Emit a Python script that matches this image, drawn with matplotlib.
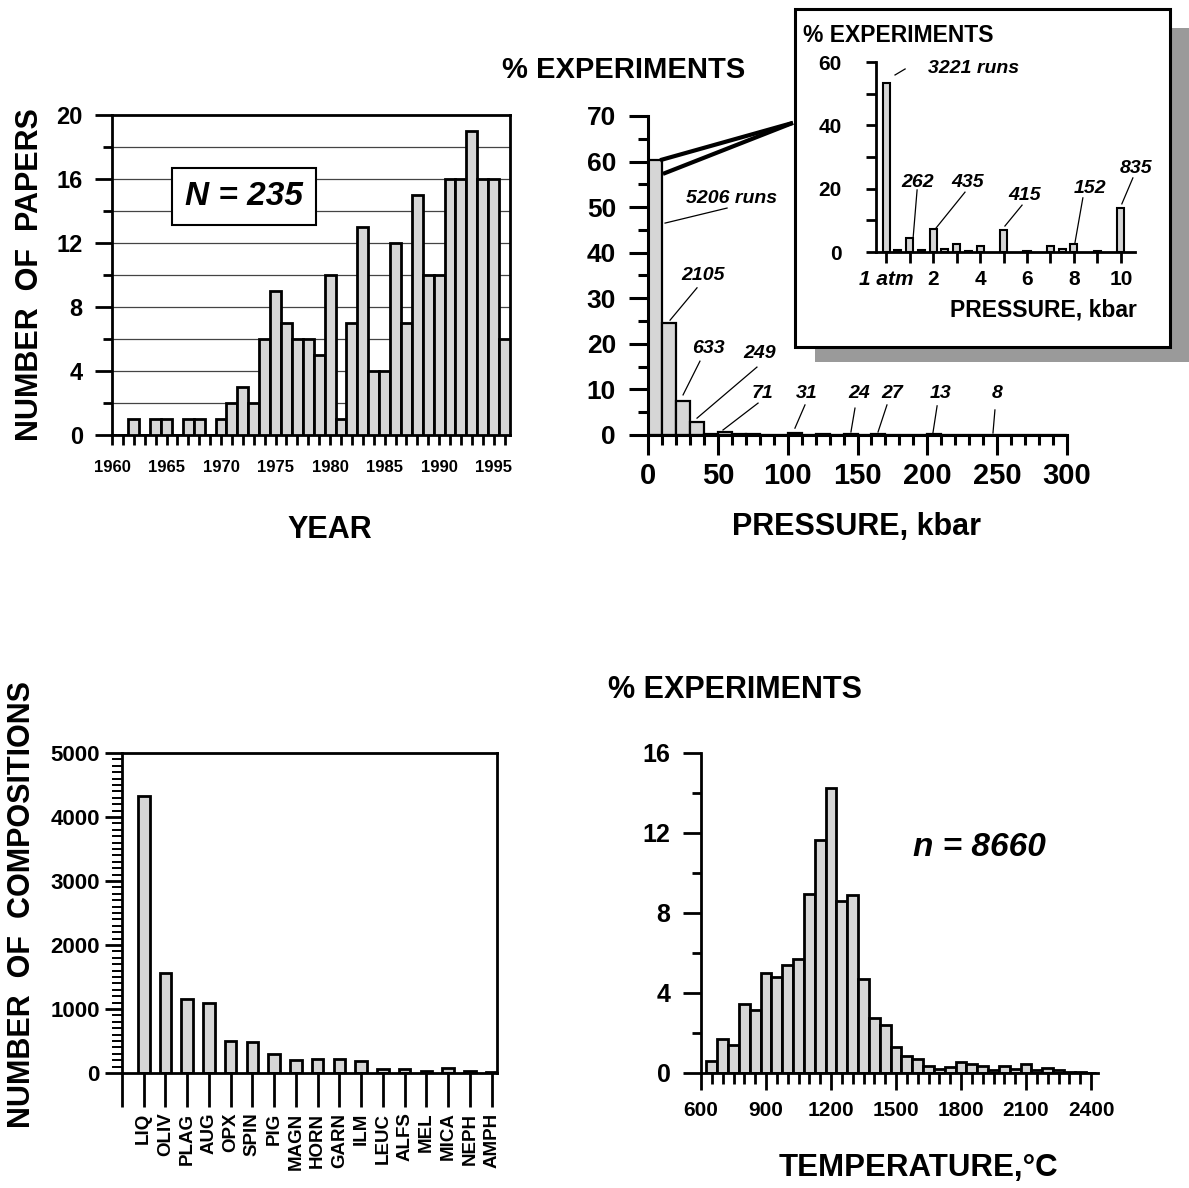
import numpy as np
import matplotlib
matplotlib.use("Agg")
import matplotlib.pyplot as plt
from matplotlib.patches import Rectangle
from matplotlib.ticker import MultipleLocator, FixedLocator

plt.rcParams['font.family'] = ['Liberation Sans', 'DejaVu Sans']
plt.rcParams['font.weight'] = 'bold'

# ---- data ----
years = list(range(1960, 1997))
papers = [0, 0, 1, 0, 1, 1, 0, 1, 1, 0, 1, 2, 3, 2, 6, 9, 7, 6, 6, 5, 10, 1, 7, 13,
          4, 4, 12, 7, 15, 10, 10, 16, 16, 19, 16, 16, 6]

press_edges = list(range(0, 300, 10))
press_pct = [60.3, 24.5, 7.5, 2.8, 0.15, 0.75, 0.3, 0.25, 0.1, 0.1, 0.35, 0.1, 0.3, 0.1, 0.28,
             0.05, 0.3, 0.1, 0.05, 0.05, 0.15, 0.02, 0.1, 0.05, 0.09, 0.1, 0.05, 0.02, 0.02, 0.0]
press_runs = ['5206 runs', '2105', '633', '249', '71', '31', '24', '27', '13', '8']

low_p = [0, 0.5, 1, 1.5, 2, 2.5, 3, 3.5, 4, 5, 6, 7, 7.5, 8, 9, 10]
low_pct = [53.5, 0.6, 4.4, 0.5, 7.4, 1.0, 2.6, 0.2, 1.8, 7.1, 0.2, 2.0, 0.9, 2.5, 0.4, 13.9]
low_runs = ['3221 runs', '262', '435', '415', '152', '835']

phases = ['LIQ', 'OLIV', 'PLAG', 'AUG', 'OPX', 'SPIN', 'PIG', 'MAGN', 'HORN', 'GARN',
          'ILM', 'LEUC', 'ALFS', 'MEL', 'MICA', 'NEPH', 'AMPH']
compositions = [4330, 1570, 1155, 1093, 500, 492, 290, 200, 225, 225, 190, 57, 67, 36, 78, 26, 10]

temps = list(range(650, 2401, 50))
temp_pct = [0.58, 1.68, 1.42, 3.43, 3.13, 5.0, 4.8, 5.42, 5.7, 8.97, 11.63, 14.27, 8.58, 8.88,
            4.72, 2.75, 2.42, 1.3, 0.83, 0.68, 0.35, 0.2, 0.3, 0.55, 0.43, 0.35, 0.17, 0.33,
            0.2, 0.43, 0.17, 0.27, 0.13, 0.05, 0.03, 0.02]

W, H = 1189, 1188
FILL = '#d6d6d6'
fig = plt.figure(figsize=(W / 100, H / 100), dpi=100)


def rect(l, r, t, b):
    return [l / W, 1 - b / H, (r - l) / W, (b - t) / H]


def ftext(px, py, s, **kw):
    fig.text(px / W, 1 - py / H, s, ha='center', va='center', **kw)


def style_ticks(ax, lw=1.8):
    ax.tick_params(which='both', width=lw, direction='out')
    for sp in ax.spines.values():
        sp.set_linewidth(lw)


# ---- top left: papers per year ----
ax1 = fig.add_axes(rect(112, 510, 115, 435))
ax1.bar(years, papers, width=1.0, color=FILL, edgecolor='black', linewidth=2.0, zorder=3)
ax1.set_xlim(1960, 1996.5)
ax1.set_ylim(0, 20)
ax1.yaxis.set_major_locator(MultipleLocator(4))
ax1.yaxis.set_minor_locator(MultipleLocator(2))
ax1.xaxis.set_major_locator(MultipleLocator(5))
ax1.xaxis.set_minor_locator(MultipleLocator(1))
for g in range(2, 20, 2):
    ax1.axhline(g, color='#444444', lw=0.9, zorder=1)
style_ticks(ax1, 2.0)
ax1.tick_params(axis='y', which='major', length=12, pad=9, labelsize=17)
ax1.tick_params(axis='y', which='minor', length=6.5)
ax1.tick_params(axis='x', which='both', length=7, pad=11, labelsize=12)
ax1.text(1972.1, 14.9, 'N = 235', fontsize=24, style='italic', ha='center', va='center',
         bbox=dict(boxstyle='square,pad=0.38', fc='white', ec='black', lw=1.5), zorder=5)
ftext(30, 275, 'NUMBER  OF  PAPERS', fontsize=22, rotation=90)
ftext(330, 530, 'YEAR', fontsize=22)

# ---- top right: pressure distribution ----
ax2 = fig.add_axes(rect(648, 1067, 116, 435))
ax2.bar(press_edges, press_pct, width=10, align='edge', color=FILL, edgecolor='black', linewidth=1.6)
ax2.set_xlim(0, 300)
ax2.set_ylim(0, 70)
ax2.spines['top'].set_visible(False)
ax2.spines['right'].set_visible(False)
ax2.yaxis.set_major_locator(MultipleLocator(10))
ax2.yaxis.set_minor_locator(MultipleLocator(5))
ax2.xaxis.set_major_locator(MultipleLocator(50))
ax2.xaxis.set_minor_locator(MultipleLocator(10))
style_ticks(ax2, 2.2)
ax2.tick_params(axis='y', which='major', length=14, pad=9, labelsize=19)
ax2.tick_params(axis='y', which='minor', length=7)
ax2.tick_params(axis='x', which='major', length=14.5, pad=5, labelsize=21)
ax2.tick_params(axis='x', which='minor', length=7)
ann2 = [((60.1, 51.8), (12.2, 46.5), (56.6, 49.8)),
        ((39.4, 34.9), (15.8, 25.2), (35.1, 32.3)),
        ((43.0, 18.9), (25.1, 8.8), (37.2, 16.2)),
        ((80.2, 17.8), (35.1, 3.7), (78.0, 14.9)),
        ((82.3, 9.2), (53.7, 1.1), (78.8, 7.0)),
        ((113.8, 9.2), (105.2, 1.5), (112.4, 6.6)),
        ((151.0, 9.2), (145.3, 0.66), (148.2, 5.9)),
        ((174.7, 9.2), (164.7, 0.66), (171.1, 6.6)),
        ((209.8, 9.2), (204.0, 0.44), (207.0, 6.4)),
        ((249.9, 9.2), (247.0, 0.44), (248.4, 5.5))]
for lab, (tpos, p0, p1) in zip(press_runs, ann2):
    ax2.text(tpos[0], tpos[1], lab, fontsize=14, style='italic', ha='center', va='center')
    ax2.plot([p0[0], p1[0]], [p0[1], p1[1]], color='black', lw=0.9, clip_on=False)
# zoom lines towards the inset
ax2.plot([8.6, 103.8], [60.3, 68.5], color='black', lw=3, clip_on=False, solid_capstyle='butt')
ax2.plot([10.7, 103.8], [57.3, 68.5], color='black', lw=3, clip_on=False, solid_capstyle='butt')
ftext(624, 70, '% EXPERIMENTS', fontsize=21)
ftext(856, 527, 'PRESSURE, kbar', fontsize=22)

# ---- inset: low pressure ----
fig.add_artist(Rectangle((815 / W, 1 - 362 / H), (W - 815) / W, 15 / H, transform=fig.transFigure,
                         fc='#9a9a9a', ec='none', zorder=1))
fig.add_artist(Rectangle((1170 / W, 1 - 362 / H), (W - 1170) / W, 334 / H, transform=fig.transFigure,
                         fc='#9a9a9a', ec='none', zorder=1))
fig.add_artist(Rectangle((795 / W, 1 - 347 / H), 375 / W, 338 / H, transform=fig.transFigure,
                         fc='white', ec='black', lw=2.2, zorder=2))
ax3 = fig.add_axes(rect(876, 1135, 62, 252), zorder=5)
ax3.patch.set_visible(False)
ax3.bar(low_p, low_pct, width=0.3, color=FILL, edgecolor='black', linewidth=1.5)
ax3.set_xlim(-0.43, 10.6)
ax3.set_ylim(0, 60)
ax3.spines['top'].set_visible(False)
ax3.spines['right'].set_visible(False)
ax3.yaxis.set_major_locator(MultipleLocator(20))
ax3.yaxis.set_minor_locator(MultipleLocator(10))
ax3.xaxis.set_major_locator(FixedLocator(range(11)))
ax3.set_xticklabels(['1 atm', '', '2', '', '4', '', '6', '', '8', '', '10'])
ax3.get_xticklabels()[0].set_style('italic')
style_ticks(ax3, 2.0)
ax3.tick_params(axis='y', which='both', length=7.5, pad=17, labelsize=15)
ax3.tick_params(axis='x', length=8, pad=5, labelsize=15)
ann3 = [((3.74, 58.1), (0.38, 55.9), (0.81, 57.8)),
        ((1.36, 22.1), (1.15, 4.4), (1.32, 19.6)),
        ((3.49, 22.1), (2.13, 7.6), (3.36, 18.9)),
        ((5.91, 18.0), (5.06, 8.2), (5.79, 14.8)),
        ((8.68, 19.9), (8.04, 2.8), (8.38, 17.1)),
        ((10.64, 26.5), (10.04, 15.2), (10.51, 23.4))]
for lab, (tpos, p0, p1) in zip(low_runs, ann3):
    ax3.text(tpos[0], tpos[1], lab, fontsize=14, style='italic', ha='center', va='center', clip_on=False)
    ax3.plot([p0[0], p1[0]], [p0[1], p1[1]], color='black', lw=0.9, clip_on=False)
fig.text(803 / W, 1 - 35 / H, '% EXPERIMENTS', fontsize=16.5, ha='left', va='center', zorder=6)
fig.text(1043 / W, 1 - 310 / H, 'PRESSURE, kbar', fontsize=16.5, ha='center', va='center', zorder=6)

# ---- bottom left: compositions per phase ----
ax4 = fig.add_axes(rect(122, 497, 753, 1073))
pos = np.arange(1, len(phases) + 1)
ax4.bar(pos, compositions, width=0.53, color=FILL, edgecolor='black', linewidth=2.0)
ax4.set_xlim(0, 17.25)
ax4.set_ylim(0, 5000)
ax4.yaxis.set_major_locator(MultipleLocator(1000))
ax4.yaxis.set_minor_locator(MultipleLocator(100))
ax4.set_xticks(np.arange(0, len(phases) + 1))
ax4.set_xticklabels([''] + phases, rotation=90, fontsize=13.5)
style_ticks(ax4, 2.0)
ax4.tick_params(axis='y', which='major', length=12, pad=4, labelsize=16)
ax4.tick_params(axis='y', which='minor', length=7, width=1.4)
ax4.tick_params(axis='x', length=24.5, pad=4)
ftext(22, 905, 'NUMBER  OF  COMPOSITIONS', fontsize=22, rotation=90)

# ---- bottom right: temperature distribution ----
ax5 = fig.add_axes(rect(701, 1098, 753, 1073))
ax5.bar(temps, temp_pct, width=50, color=FILL, edgecolor='black', linewidth=2.0)
ax5.set_xlim(600, 2432)
ax5.set_ylim(0, 16)
ax5.spines['top'].set_visible(False)
ax5.spines['right'].set_visible(False)
ax5.yaxis.set_major_locator(MultipleLocator(4))
ax5.yaxis.set_minor_locator(MultipleLocator(2))
ax5.xaxis.set_major_locator(MultipleLocator(300))
ax5.xaxis.set_minor_locator(MultipleLocator(50))
style_ticks(ax5, 2.0)
ax5.tick_params(axis='y', which='major', length=13, pad=9, labelsize=18)
ax5.tick_params(axis='y', which='minor', length=6.5)
ax5.tick_params(axis='x', which='major', length=12, pad=8, labelsize=15)
ax5.tick_params(axis='x', which='minor', length=8)
ax5.annotate('n = 8660', xy=((979 - 701) / 397, (1073 - 848) / 320), xycoords='axes fraction',
             fontsize=24, style='italic', ha='center', va='center')
ftext(735, 690, '% EXPERIMENTS', fontsize=22)
ftext(918, 1168, 'TEMPERATURE,\u00b0C', fontsize=22.5)

fig.savefig('out.png', dpi=100)
